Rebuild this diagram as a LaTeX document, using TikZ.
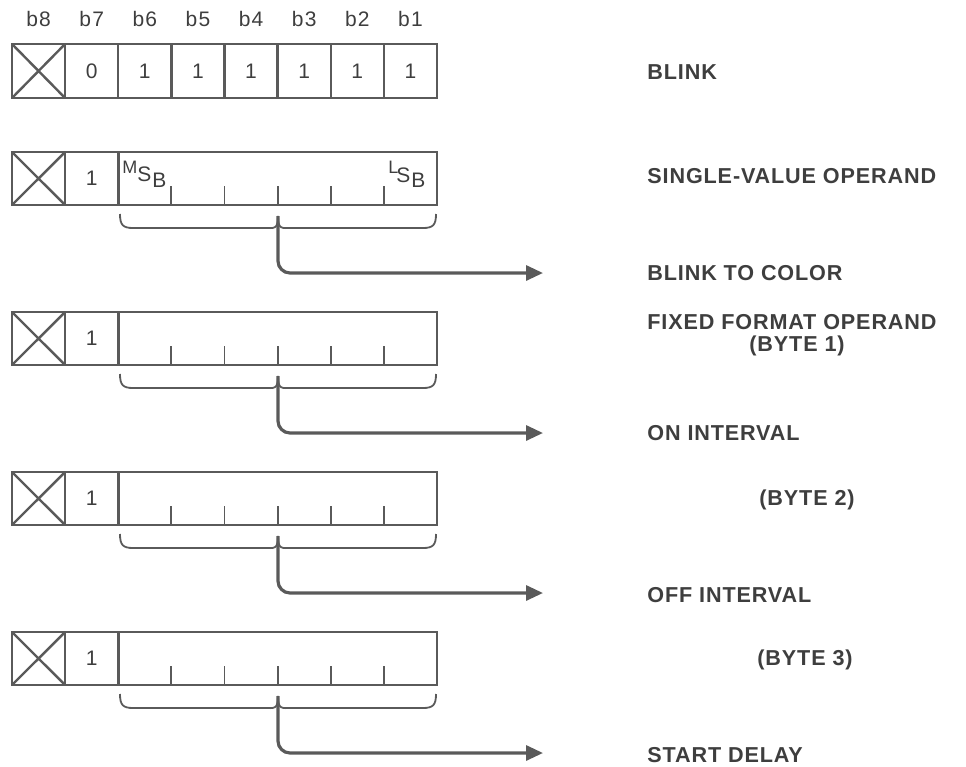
\documentclass[tikz,border=0pt]{standalone}
\usepackage{fontspec}
\setmainfont{Liberation Sans}
\usetikzlibrary{arrows.meta}

\definecolor{ink}{HTML}{5A5A5A}
\definecolor{txt}{HTML}{3E3E3E}

\tikzset{
  cellbox/.style={draw=ink, line width=1.2pt},
  tickline/.style={draw=ink, line width=0.9pt},
  bracepath/.style={draw=ink, line width=0.9pt},
  flowarrow/.style={draw=ink, line width=1.6pt, rounded corners=6pt, -{Triangle[length=8.5pt,width=7.5pt]}},
  bitlabel/.style={text=txt, font=\fontsize{10.5}{12}\selectfont\addfontfeatures{LetterSpace=6}, inner sep=0pt},
  bitval/.style={text=txt, font=\fontsize{10.5}{12}\selectfont, inner sep=0pt},
  fieldlabel/.style={text=txt, font=\fontsize{10.8}{12}\selectfont\bfseries\addfontfeatures{LetterSpace=4}, inner sep=0pt, anchor=west},
  bytelabel/.style={fieldlabel, anchor=center},
  sbit/.style={text=txt, font=\fontsize{10.5}{12}\selectfont, inner sep=0pt, anchor=base west},
  sbitsmall/.style={sbit, font=\fontsize{9}{10}\selectfont},
}

\begin{document}
\begin{tikzpicture}[x=0.5pt, y=-0.5pt]
  \useasboundingbox (0,0) rectangle (966,767);

  % bit numbers
  \foreach \i [count=\c] in {8,7,...,1}
    \node[bitlabel] (head\i) at ({12+53.125*(\c-0.5)}, 19) {b\i};

  % blink code byte
  \draw[cellbox] (12,44) rectangle (437,98);
  \foreach \c in {1,...,7}
    \draw[cellbox] ({12+53.125*\c},44) -- ({12+53.125*\c},98);
  \draw[cellbox] (12,44) -- (65.1,98) (65.1,44) -- (12,98);
  \node[bitval] (code7) at (91.7,71) {0};
  \foreach \c in {3,...,8}
    \node[bitval] (code\c) at ({12+53.125*(\c-0.5)},71) {1};

  % operand bytes
  \foreach \r/\t in {2/152,3/312,4/472,5/632}{
    \draw[cellbox] (12,\t) rectangle (437,\t+53);
    \draw[cellbox] (65.1,\t) -- (65.1,\t+53) (118.3,\t) -- (118.3,\t+53);
    \draw[cellbox] (12,\t) -- (65.1,\t+53) (65.1,\t) -- (12,\t+53);
    \node[bitval] (one\r) at (91.7,\t+26) {1};
    \foreach \c in {3,...,7}
      \draw[tickline] ({12+53.125*\c},\t+53) -- ({12+53.125*\c},\t+34);
    % brace under the value bits
    \coordinate (cusp\r) at (278,\t+64);
    \draw[bracepath] (120,\t+62) .. controls (120,\t+73) and (123,\t+76) .. (133,\t+76)
      -- (264,\t+76) .. controls (274,\t+76) and (278,\t+78) .. (cusp\r)
      .. controls (278,\t+78) and (282,\t+76) .. (292,\t+76)
      -- (423,\t+76) .. controls (433,\t+76) and (436,\t+73) .. (436,\t+62);
    \coordinate (tip\r) at (543,\t+121);
    \draw[flowarrow] (cusp\r) |- (tip\r);
  }

  % MSB / LSB marks
  \node[sbitsmall] (msbM) at (122,173) {M};
  \node[sbit] (msbS) at (137,181) {S};
  \node[sbit] (msbB) at (152,187) {B};
  \node[sbitsmall] (lsbL) at (388,173) {L};
  \node[sbit] (lsbS) at (396,182) {S};
  \node[sbit] (lsbB) at (411,187) {B};

  % field names
  \node[fieldlabel] (blink) at (647,72) {BLINK};
  \node[fieldlabel] (single) at (647,176) {SINGLE-VALUE OPERAND};
  \node[fieldlabel] (tocolor) at (647,273) {BLINK TO COLOR};
  \node[fieldlabel] (fixed) at (647,322) {FIXED FORMAT OPERAND};
  \node[bytelabel] (byte1) at (797,346) {(BYTE 1)};
  \node[fieldlabel] (oninterval) at (647,433) {ON INTERVAL};
  \node[bytelabel] (byte2) at (807,500) {(BYTE 2)};
  \node[fieldlabel] (offinterval) at (647,595) {OFF INTERVAL};
  \node[bytelabel] (byte3) at (805,660) {(BYTE 3)};
  \node[fieldlabel] (startdelay) at (647,755) {START DELAY};
\end{tikzpicture}
\end{document}
